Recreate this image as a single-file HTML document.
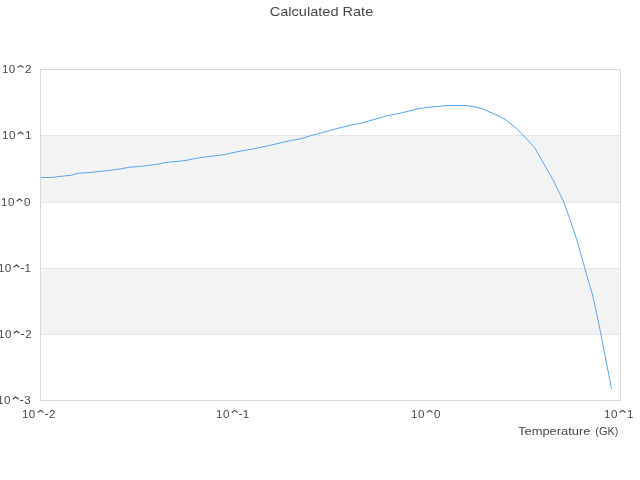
<!DOCTYPE html>
<html><head><meta charset="utf-8"><style>
html,body{margin:0;padding:0;background:#fff;width:640px;height:480px;overflow:hidden}
svg{display:block;will-change:transform}
text{font-family:"Liberation Sans",sans-serif;fill:#484848}
.c{fill:none;stroke:#484848;stroke-width:1.15;stroke-linejoin:miter}
.m{fill:#484848}
</style></head><body>
<svg width="640" height="480" viewBox="0 0 640 480">
<rect x="0" y="0" width="640" height="480" fill="#fff"/>
<rect x="40" y="135" width="580" height="67" fill="#f3f3f3"/>
<rect x="40" y="268" width="580" height="66" fill="#f3f3f3"/>
<g stroke="#e6e6e6" stroke-width="1" shape-rendering="crispEdges">
<line x1="40" y1="135.5" x2="620" y2="135.5"/>
<line x1="40" y1="202.5" x2="620" y2="202.5"/>
<line x1="40" y1="268.5" x2="620" y2="268.5"/>
<line x1="40" y1="334.5" x2="620" y2="334.5"/>
</g>
<rect x="40.5" y="69.5" width="580" height="331" fill="none" stroke="#d8d8d8" stroke-width="1" shape-rendering="crispEdges"/>
<polyline points="41,177.5 51.25,177.5 60,176.4 71.25,175.3 73,174.8 77,173.4 80,173.2 90,172.5 100,171.4 110,170.3 120,169 125,168 130,167.2 140,166.4 150,165.3 160,163.8 165,162.5 175,161.6 185,160.6 188,160 192,159.1 200,157.7 210,156.4 220,155.2 225,154.5 230,153.25 240,151.2 250,149.5 260,147.5 270,145.3 280,143 290,140.7 300,138.9 305,137.6 310,135.8 320,133.3 335,129.1 350,125.3 360,123.4 365,122.2 370,120.6 380,117.8 385,116.25 390,115.25 400,113.25 410,110.75 415,109.5 420,108.4 430,107.1 437,106.6 447,105.5 467,105.5 470,106.1 475,106.9 480,108.25 485,110 490,112.2 495,114.4 500,116.75 505,119.2 510,123.2 515,127.1 520,132 527,139.4 534.6,147.5 544.5,165 553.1,180 559.8,193.75 563.75,201.9 570.6,221.25 576.9,240 584.75,268.1 588.75,282.5 592.6,295 595.9,310 599.1,325 611.5,388.9" fill="none" stroke="#5aa5f0" stroke-width="1" stroke-linejoin="round"/>
<text x="321.5" y="16" font-size="13" text-anchor="middle" textLength="103.5" lengthAdjust="spacingAndGlyphs">Calculated Rate</text>
<g font-size="11.6">
<text x="1.92" y="73">1</text>
<text x="8.85" y="73">0</text>
<polyline points="17.60,67.55 20.52,65.35 23.45,67.55" class="c"/>
<text x="25.02" y="73">2</text>
<text x="1.97" y="139">1</text>
<text x="8.90" y="139">0</text>
<polyline points="17.65,134.25 20.58,132.05 23.50,134.25" class="c"/>
<text x="24.92" y="139">1</text>
<text x="0.97" y="206">1</text>
<text x="7.90" y="206">0</text>
<polyline points="16.65,201.25 19.58,199.05 22.50,201.25" class="c"/>
<text x="24.00" y="206">0</text>
<text x="-2.08" y="272">1</text>
<text x="4.85" y="272">0</text>
<polyline points="13.60,267.25 16.52,265.05 19.45,267.25" class="c"/>
<rect x="20.95" y="268" width="3.1" height="1" class="m"/>
<text x="24.62" y="272">1</text>
<text x="-2.05" y="338">1</text>
<text x="4.88" y="338">0</text>
<polyline points="13.63,333.25 16.55,331.05 19.48,333.25" class="c"/>
<rect x="20.98" y="334" width="3.1" height="1" class="m"/>
<text x="25.15" y="338">2</text>
<text x="-2.88" y="404">1</text>
<text x="4.05" y="404">0</text>
<polyline points="12.80,399.25 15.72,397.05 18.65,399.25" class="c"/>
<rect x="20.15" y="400" width="3.1" height="1" class="m"/>
<text x="24.36" y="404">3</text>
<text x="21.92" y="418">1</text>
<text x="28.85" y="418">0</text>
<polyline points="37.60,412.55 40.52,410.35 43.45,412.55" class="c"/>
<rect x="44.95" y="414" width="3.1" height="1" class="m"/>
<text x="49.12" y="418">2</text>
<text x="216.02" y="418">1</text>
<text x="222.95" y="418">0</text>
<polyline points="231.70,412.55 234.62,410.35 237.55,412.55" class="c"/>
<rect x="239.05" y="414" width="3.1" height="1" class="m"/>
<text x="242.72" y="418">1</text>
<text x="411.02" y="418">1</text>
<text x="417.95" y="418">0</text>
<polyline points="426.70,412.55 429.62,410.35 432.55,412.55" class="c"/>
<text x="434.05" y="418">0</text>
<text x="604.02" y="418">1</text>
<text x="610.95" y="418">0</text>
<polyline points="619.70,412.55 622.62,410.35 625.55,412.55" class="c"/>
<text x="626.97" y="418">1</text>
</g>
<text x="518" y="434.6" font-size="11.5" textLength="72.5" lengthAdjust="spacingAndGlyphs">Temperature</text>
<text x="595.3" y="434.6" font-size="11.5" textLength="23.2" lengthAdjust="spacingAndGlyphs">(GK)</text>
</svg>
</body></html>
